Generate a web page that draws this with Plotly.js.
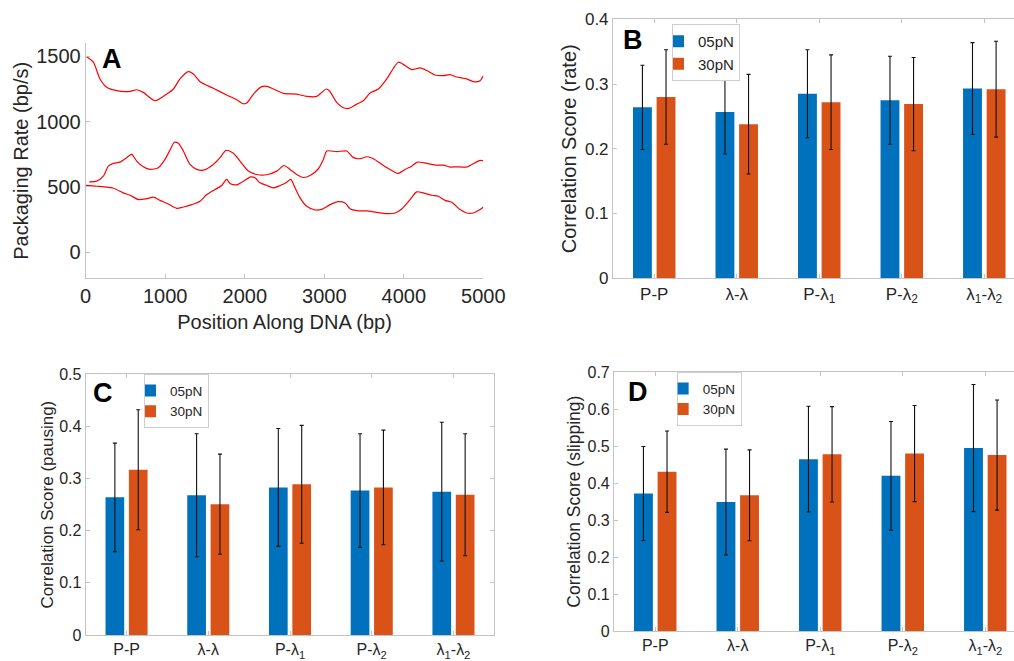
<!DOCTYPE html>
<html><head><meta charset="utf-8">
<script src="https://cdn.plot.ly/plotly-3.0.1.min.js"></script>
<style>html,body{margin:0;padding:0;background:#fff}</style>
</head><body><div id="chart" style="width:1014px;height:661px"></div>
<script>
// ---- Panel A data: packaging rate traces ----
const posTop = [0,96,180,264,390,557,641,724,872,1019,1103,1186,1291,1354,1438,1605,1773,1899,1983,2025,2109,2213,2276,2360,2486,2653,2779,2905,2968,3022,3064,3156,3240,3303,3408,3491,3575,3680,3785,3869,3931,4015,4099,4204,4288,4392,4497,4581,4665,4790,4874,4958,5000];
const rateTop = [1500,1455,1327,1263,1237,1232,1244,1224,1160,1211,1250,1327,1383,1365,1306,1255,1204,1167,1137,1142,1211,1268,1270,1250,1217,1211,1193,1193,1224,1250,1237,1147,1106,1101,1134,1160,1219,1250,1327,1409,1455,1430,1399,1411,1391,1357,1352,1360,1342,1327,1306,1314,1352];
const posMid = [45,138,222,285,348,431,515,578,641,724,808,913,997,1060,1115,1165,1228,1312,1396,1479,1605,1689,1764,1857,1940,2045,2150,2276,2402,2494,2569,2653,2737,2821,2926,2989,3031,3156,3282,3366,3450,3534,3617,3743,3848,3931,4015,4099,4170,4288,4414,4497,4581,4665,4790,4895,4958,5000];
const rateMid = [539,544,582,659,680,690,724,749,698,654,634,647,711,782,842,834,775,672,634,628,672,724,780,757,698,621,595,593,621,664,634,595,572,587,639,711,775,770,775,724,716,731,716,664,626,603,634,659,690,680,667,667,652,654,652,685,703,700];
const posBot = [0,138,348,473,557,662,767,850,934,1039,1144,1228,1333,1438,1522,1626,1710,1773,1815,1899,1983,2076,2129,2192,2276,2360,2444,2528,2578,2632,2695,2779,2884,2968,3073,3177,3261,3324,3408,3534,3659,3785,3890,3973,4078,4162,4246,4351,4434,4518,4602,4707,4790,4874,4958,5000];
const rateBot = [511,505,490,454,436,403,410,421,397,369,336,346,364,390,441,480,511,557,526,516,544,577,570,531,511,493,511,536,557,493,416,351,323,328,364,387,377,333,318,316,305,295,300,331,403,462,454,436,428,397,382,326,300,300,326,346];

// ---- Bar panels data ----
const pairIdx = [1,2,3,4,5];
const pairLabels = ['P-P','λ-λ','P-λ<sub>1</sub>','P-λ<sub>2</sub>','λ<sub>1</sub>-λ<sub>2</sub>'];
const seriesNames = ['05pN','30pN'];

const rate05 = [0.264,0.257,0.285,0.275,0.293];
const rate05Err = [0.065,0.065,0.068,0.068,0.071];
const rate30 = [0.280,0.238,0.272,0.269,0.292];
const rate30Err = [0.073,0.077,0.073,0.072,0.074];

const pause05 = [0.264,0.268,0.283,0.277,0.275];
const pause05Err = [0.104,0.118,0.113,0.109,0.133];
const pause30 = [0.317,0.251,0.289,0.283,0.269];
const pause30Err = [0.115,0.096,0.113,0.110,0.117];

const slip05 = [0.372,0.349,0.465,0.420,0.495];
const slip05Err = [0.127,0.143,0.143,0.147,0.172];
const slip30 = [0.431,0.367,0.478,0.480,0.476];
const slip30Err = [0.110,0.123,0.129,0.130,0.149];

const BLUE = '#0072BD', ORANGE = '#D95319';
const FONT = 'Liberation Sans, Arial, Helvetica, sans-serif';
const TXT = '#262626';
const LINE = '#c4c4c4';

function lineTrace(x, y) {
  return {type:'scatter', mode:'lines', x:x, y:y, xaxis:'x', yaxis:'y',
    line:{color:'#ff0000', width:1.2, shape:'spline', smoothing:0.7}, showlegend:false, hoverinfo:'skip'};
}
function barTrace(name, y, err, color, ax, leg) {
  return {type:'bar', name:name, x:pairIdx, y:y, xaxis:'x'+ax, yaxis:'y'+ax, legend:leg,
    marker:{color:color, line:{width:0}},
    error_y:{type:'data', array:err, visible:true, color:'#111', thickness:1.1, width:2}};
}

const data = [
  lineTrace(posTop, rateTop), lineTrace(posMid, rateMid), lineTrace(posBot, rateBot),
  barTrace(seriesNames[0], rate05, rate05Err, BLUE, 2, 'legend'),
  barTrace(seriesNames[1], rate30, rate30Err, ORANGE, 2, 'legend'),
  barTrace(seriesNames[0], pause05, pause05Err, BLUE, 3, 'legend2'),
  barTrace(seriesNames[1], pause30, pause30Err, ORANGE, 3, 'legend2'),
  barTrace(seriesNames[0], slip05, slip05Err, BLUE, 4, 'legend3'),
  barTrace(seriesNames[1], slip30, slip30Err, ORANGE, 4, 'legend3')
];

function ax(extra, fs) {
  return Object.assign({showgrid:false, zeroline:false, showline:true, linecolor:LINE, linewidth:1,
    ticks:'inside', ticklen:4, tickcolor:LINE, automargin:false,
    tickfont:{family:FONT, size:fs, color:TXT}}, extra);
}
function ttl(text, fs, standoff) {
  return {text:text, font:{family:FONT, size:fs, color:TXT}, standoff:standoff};
}
function legendCfg(x, y, fs) {
  return {x:x, y:y, xanchor:'left', yanchor:'top', xref:'paper', yref:'paper',
    bgcolor:'#ffffff', bordercolor:'#cfcfcf', borderwidth:1, indentation:-15,
    font:{family:FONT, size:fs, color:TXT}, tracegroupgap:0, itemwidth:30};
}
function letter(t, x, y) {
  return {text:'<b>'+t+'</b>', xref:'paper', yref:'paper', x:x, y:y, xanchor:'left', yanchor:'middle',
    showarrow:false, font:{family:FONT, size:27, color:'#000'}};
}

const layout = {
  width:1014, height:661, margin:{l:0, r:0, t:0, b:0},
  paper_bgcolor:'#fff', plot_bgcolor:'#fff',
  barmode:'group', bargap:0.428, bargroupgap:0.2,
  xaxis: ax({domain:[0.0845,0.4767], range:[0,5000], tickvals:[0,1000,2000,3000,4000,5000], anchor:'y',
    title:ttl('Position Along DNA (bp)', 20, 8)}, 20),
  yaxis: ax({domain:[0.579,0.9345], range:[-200,1600], tickvals:[0,500,1000,1500], anchor:'x',
    title:ttl('Packaging Rate (bp/s)', 20, 2)}, 20),
  xaxis2: ax({domain:[0.6045,1], range:[0.5,5.36], tickvals:pairIdx, ticktext:pairLabels, anchor:'y2', mirror:'ticks'}, 17),
  yaxis2: ax({domain:[0.579,0.9708], range:[0,0.4], dtick:0.1, anchor:'x2',
    title:ttl('Correlation Score (rate)', 20, 2)}, 17),
  xaxis3: ax({domain:[0.0845,0.4875], range:[0.5,5.5], tickvals:pairIdx, ticktext:pairLabels, anchor:'y3', mirror:'ticks'}, 16),
  yaxis3: ax({domain:[0.0393,0.4337], range:[0,0.5], dtick:0.1, anchor:'x3', mirror:'ticks',
    title:ttl('Correlation Score (pausing)', 17, 1)}, 16),
  xaxis4: ax({domain:[0.6055,1], range:[0.5,5.348], tickvals:pairIdx, ticktext:pairLabels, anchor:'y4', mirror:'ticks'}, 16),
  yaxis4: ax({domain:[0.0454,0.4368], range:[0,0.7], dtick:0.1, anchor:'x4',
    title:ttl('Correlation Score (slipping)', 17.5, 2)}, 16),
  legend: legendCfg(0.6627, 0.9637, 15),
  legend2: legendCfg(0.142, 0.4337, 13.5),
  legend3: legendCfg(0.6673, 0.4368, 13.5),
  annotations: [
    letter('A', 0.099, 0.911),
    letter('B', 0.612, 0.939),
    letter('C', 0.090, 0.405),
    letter('D', 0.617, 0.407)
  ]
};

Plotly.newPlot('chart', data, layout, {displayModeBar:false, staticPlot:true});
</script></body></html>
